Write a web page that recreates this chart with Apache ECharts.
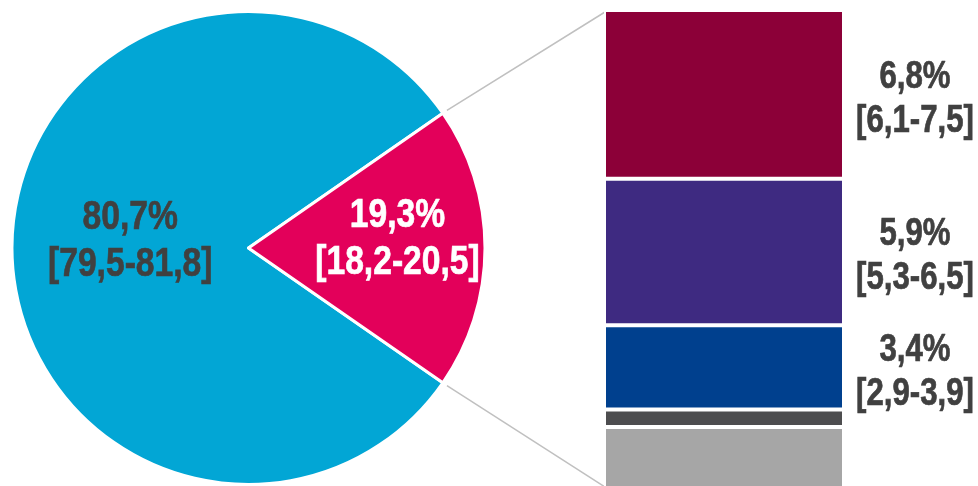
<!DOCTYPE html>
<html>
<head>
<meta charset="utf-8">
<style>
  html, body { margin: 0; padding: 0; background: #ffffff; }
  #chart { width: 978px; height: 486px; }
</style>
<script src="https://cdn.jsdelivr.net/npm/echarts@6/dist/echarts.min.js"></script>
</head>
<body>
<div id="chart"></div>
<script>
// Overall split (pie)
const pieNames = ['Total', 'Subgroup'];
const pieValues = [80.7, 19.3];
const pieIntervals = ['[79,5-81,8]', '[18,2-20,5]'];
const pieColors = ['#02A6D5', '#E3005A'];

// Breakdown of the 19,3% slice (stacked bar, top to bottom)
const barNames = ['A', 'B', 'C', 'D', 'E'];
const barValues = [6.8, 5.9, 3.4, 0.7, 2.5];
const barIntervals = ['[6,1-7,5]', '[5,3-6,5]', '[2,9-3,9]', '', ''];
const barColors = ['#8C0038', '#3E2A81', '#00408E', '#4D4D4F', '#A6A6A6'];

// Narrow bold look: Arial-metric bold face, horizontally condensed
const FONT_FAMILY = '"Liberation Sans", Arial, sans-serif';
const NARROW = 0.82;
const fmt = v => v.toFixed(1).replace('.', ',') + '%';

const pieCenter = [248.5, 248];
const pieRadius = 236.5;
const barLeft = 604, barWidthPx = 240, barTop = 10, barHeight = 479;
const barTotal = barValues.reduce((a, b) => a + b, 0);

const chart = echarts.init(document.getElementById('chart'), null, { renderer: 'canvas' });

const barSeries = barValues.map((v, i) => ({
  type: 'bar',
  name: barNames[i],
  stack: 'split',
  barWidth: '100%',
  data: [v],
  itemStyle: { color: barColors[i], borderColor: '#ffffff', borderWidth: 2 },
  silent: true,
  animation: false
}));

chart.setOption({
  animation: false,
  grid: {
    left: barLeft, top: barTop, width: barWidthPx, height: barHeight,
    outerBoundsMode: 'none'
  },
  xAxis: { type: 'category', data: ['x'], show: false },
  yAxis: { type: 'value', min: 0, max: barTotal, inverse: true, show: false },
  series: [
    {
      type: 'pie',
      center: pieCenter,
      radius: pieRadius,
      startAngle: -(pieValues[1] / 100 * 360) / 2,
      clockwise: true,
      silent: true,
      animation: false,
      itemStyle: { borderColor: '#ffffff', borderWidth: 3 },
      label: { show: false },
      labelLine: { show: false },
      data: pieValues.map((v, i) => ({ name: pieNames[i], value: v, itemStyle: { color: pieColors[i] } }))
    },
    ...barSeries
  ]
});

// Value labels
function label(x, y, text, size, lh, color) {
  return {
    type: 'text', x: x, y: y, z: 100, silent: true, scaleX: NARROW,
    style: {
      text: text, fill: color, stroke: color, lineWidth: 0.7,
      align: 'center', verticalAlign: 'middle',
      font: 'bold ' + size + 'px ' + FONT_FAMILY, lineHeight: lh
    }
  };
}

const graphics = [];

// Pie labels placed along each slice's bisector
const pieLabelRadius = [0.50, 0.63];
const pieLabelShift = [-7, -9];
const pieLabelColor = ['#404040', '#ffffff'];
let angle = -(pieValues[1] / 100 * 360) / 2; // degrees, counter-clockwise from 3 o'clock
pieValues.forEach((v, i) => {
  const sweep = v / 100 * 360;
  const mid = (angle - sweep / 2) * Math.PI / 180;
  angle -= sweep;
  const r = pieRadius * pieLabelRadius[i];
  const x = pieCenter[0] + r * Math.cos(mid);
  const y = pieCenter[1] - r * Math.sin(mid) + pieLabelShift[i];
  graphics.push(label(x, y, fmt(v) + '\n' + pieIntervals[i], 41, 47, pieLabelColor[i]));
});

// Bar segment labels to the right of the stack
let acc = 0;
barValues.forEach((v, i) => {
  const y0 = chart.convertToPixel({ yAxisIndex: 0 }, acc);
  const y1 = chart.convertToPixel({ yAxisIndex: 0 }, acc + v);
  acc += v;
  if (!barIntervals[i]) return;
  graphics.push(label(915, (y0 + y1) / 2 + 5, fmt(v) + '\n' + barIntervals[i], 38, 44, '#404040'));
});

// Connector lines from the subgroup slice to the stacked bar
const half = (pieValues[1] / 100 * 360) / 2 * Math.PI / 180;
const rOut = pieRadius + 5;
const yTop = chart.convertToPixel({ yAxisIndex: 0 }, 0);
const yBot = chart.convertToPixel({ yAxisIndex: 0 }, barTotal);
const lineStyle = { stroke: '#C0C0C0', lineWidth: 1.5 };
graphics.push(
  {
    type: 'line', silent: true,
    shape: { x1: pieCenter[0] + rOut * Math.cos(half), y1: pieCenter[1] - rOut * Math.sin(half), x2: barLeft + 1, y2: yTop + 2 },
    style: lineStyle
  },
  {
    type: 'line', silent: true,
    shape: { x1: pieCenter[0] + rOut * Math.cos(half), y1: pieCenter[1] + rOut * Math.sin(half), x2: barLeft + 1, y2: yBot - 2 },
    style: lineStyle
  }
);

chart.setOption({ graphic: graphics });
</script>
</body>
</html>
